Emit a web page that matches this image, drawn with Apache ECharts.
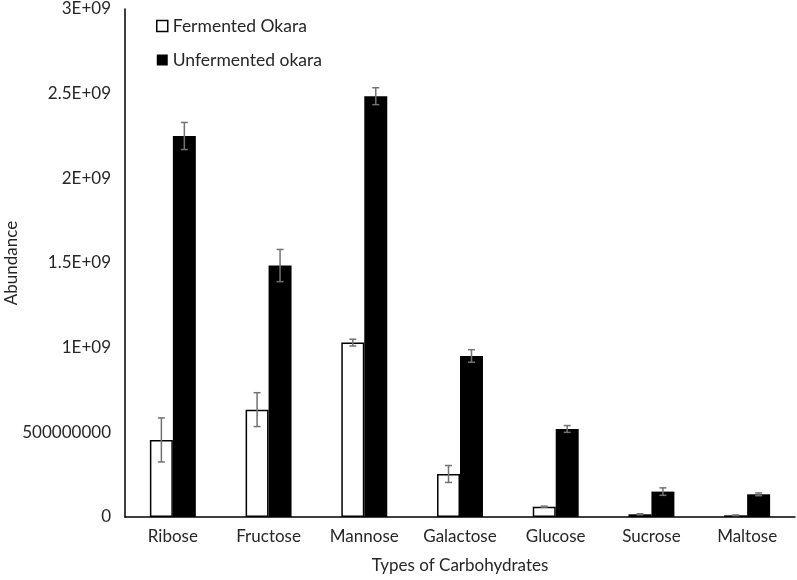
<!DOCTYPE html>
<html>
<head>
<meta charset="utf-8">
<script src="https://cdn.jsdelivr.net/npm/echarts@6/dist/echarts.min.js"></script>
<style>html,body{margin:0;padding:0;background:#fff}#c{width:797px;height:580px}</style>
</head>
<body>
<div id="c"></div>
<script>
var categories = ['Ribose','Fructose','Mannose','Galactose','Glucose','Sucrose','Maltose'];
var fermented = [455000000, 634000000, 1030000000, 254000000, 61000000, 16000000, 10000000];
var fermentedErr = [130000000, 100000000, 20000000, 50000000, 3000000, 3000000, 2000000];
var unfermented = [2250000000, 1485000000, 2485000000, 951000000, 520000000, 150000000, 134000000];
var unfermentedErr = [80000000, 95000000, 50000000, 37000000, 20000000, 22000000, 8000000];
var yTickLabels = {0:'0', 500000000:'500000000', 1000000000:'1E+09', 1500000000:'1.5E+09', 2000000000:'2E+09', 2500000000:'2.5E+09', 3000000000:'3E+09'};

var FONT = 'Lato';
var TXT = '#262626';
var chart = echarts.init(document.getElementById('c'));

function errItem(side) {
  return function (params, api) {
    var i = api.value(0);
    var v = api.value(1), e = api.value(2);
    var band = api.size([1, 0])[0];
    var c = api.coord([i, v]);
    var x = c[0] + side * band * 0.12;
    var hi = api.coord([i, v + e])[1];
    var lo = api.coord([i, v - e])[1];
    var w = 3.5;
    var st = {stroke: '#727272', lineWidth: 1.5};
    return {type: 'group', children: [
      {type: 'line', shape: {x1: x, y1: hi, x2: x, y2: lo}, style: st},
      {type: 'line', shape: {x1: x - w, y1: hi, x2: x + w, y2: hi}, style: st},
      {type: 'line', shape: {x1: x - w, y1: lo, x2: x + w, y2: lo}, style: st}
    ]};
  };
}

chart.setOption({
  animation: false,
  textStyle: {fontFamily: FONT},
  grid: {left: 125, right: 2, top: 9, bottom: 63, containLabel: false, outerBoundsMode: 'none'},
  legend: {
    orient: 'vertical', left: 151, top: 12, itemGap: 16,
    itemWidth: 11, itemHeight: 11,
    textStyle: {fontFamily: FONT, fontSize: 17.5, color: TXT},
    data: [
      {name: 'Fermented Okara', icon: 'rect', itemStyle: {color: '#fff', borderColor: '#000', borderWidth: 1.5}},
      {name: 'Unfermented okara', icon: 'rect', itemStyle: {color: '#000'}}
    ]
  },
  xAxis: {
    type: 'category', data: categories,
    name: 'Types of Carbohydrates', nameLocation: 'middle', nameGap: 40, nameMoveOverlap: false,
    nameTextStyle: {fontFamily: FONT, fontSize: 17, color: TXT},
    axisLine: {lineStyle: {color: '#000', width: 1.5}},
    axisTick: {show: false},
    axisLabel: {fontFamily: FONT, fontSize: 17, color: TXT, margin: 11, interval: 0, hideOverlap: false}
  },
  yAxis: {
    type: 'value', min: 0, max: 3000000000, interval: 500000000,
    name: 'Abundance', nameLocation: 'middle', nameGap: 105, nameRotate: 90, nameMoveOverlap: false,
    nameTextStyle: {fontFamily: FONT, fontSize: 17, color: TXT},
    axisLine: {show: true, lineStyle: {color: '#000', width: 1.5}},
    axisTick: {show: false},
    splitLine: {show: false},
    axisLabel: {fontFamily: FONT, fontSize: 17, color: TXT, margin: 14,
      formatter: function (v) { return yTickLabels[v] !== undefined ? yTickLabels[v] : String(v); }}
  },
  series: [
    {name: 'Fermented Okara', type: 'bar', data: fermented, barWidth: '24%', barGap: '0%',
      itemStyle: {color: '#fff', borderColor: '#000', borderWidth: 1.5}},
    {name: 'Unfermented okara', type: 'bar', data: unfermented, barWidth: '24%', barGap: '0%',
      itemStyle: {color: '#000'}},
    {type: 'custom', name: 'errF', renderItem: errItem(-1), z: 10,
      data: fermented.map(function (v, i) { return [i, v, fermentedErr[i]]; }),
      encode: {x: 0, y: 1}},
    {type: 'custom', name: 'errU', renderItem: errItem(1), z: 10,
      data: unfermented.map(function (v, i) { return [i, v, unfermentedErr[i]]; }),
      encode: {x: 0, y: 1}}
  ]
});
</script>
</body>
</html>
